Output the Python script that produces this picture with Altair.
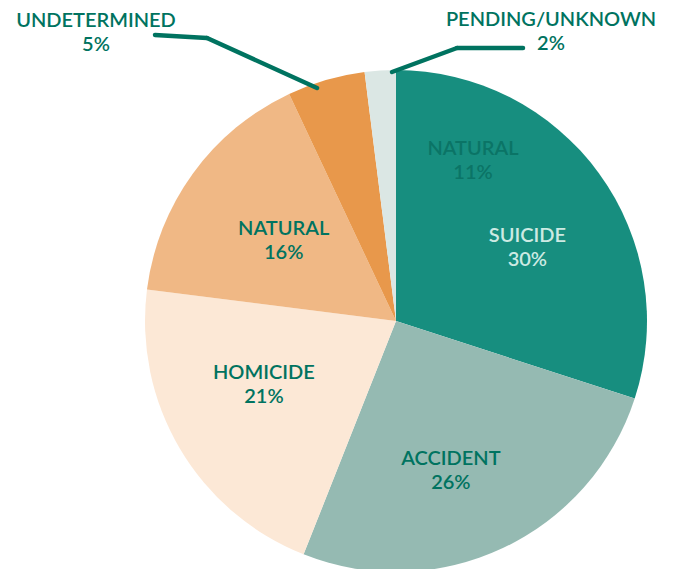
import altair as alt
import pandas as pd

categories = ["SUICIDE", "ACCIDENT", "HOMICIDE", "NATURAL", "UNDETERMINED", "PENDING/UNKNOWN"]
values = [30, 26, 21, 16, 5, 2]
colors = ["#178E7F", "#95BAB2", "#FCE8D6", "#F0B885", "#E8984B", "#DBE7E4"]
stray_label = ["NATURAL", "11%"]

df = pd.DataFrame({
    "category": categories,
    "value": values,
    "order": list(range(len(categories))),
    "label": [f"{c}\n{v}%" for c, v in zip(categories, values)],
})

FONT = "Lato"
WEIGHT = 600
DARK = "#007360"
CX, CY = 388, 313
R = 251
SHIFT = -11

pie = alt.Chart(df).mark_arc(radius=R, stroke=None).encode(
    theta=alt.Theta("value:Q", stack=True),
    order=alt.Order("order:Q"),
    x=alt.value(CX),
    y=alt.value(CY),
    color=alt.Color("category:N", scale=alt.Scale(domain=categories, range=colors), legend=None),
)

lab_base = alt.Chart(df).transform_window(
    cum="sum(value)", sort=[alt.SortField("order")], frame=[None, 0]
).transform_calculate(mid="datum.cum - datum.value / 2")

def inner_label(cat, dx, dy, color):
    return lab_base.transform_filter(alt.datum.category == cat).mark_text(
        radius=150, dx=dx, dy=dy + SHIFT, font=FONT, fontSize=20, fontWeight=WEIGHT,
        lineBreak="\n", lineHeight=24, align="center", baseline="middle", color=color,
    ).encode(
        theta=alt.Theta("mid:Q", stack=False, scale=alt.Scale(domain=[0, 100])),
        x=alt.value(CX), y=alt.value(CY), text="label:N",
    )

labels = [
    inner_label("SUICIDE", 10, 14, "#CDEAE3"),
    inner_label("ACCIDENT", -9, 13, DARK),
    inner_label("HOMICIDE", -3, -13, DARK),
    inner_label("NATURAL", 9, 7, DARK),
]

one = alt.Chart(pd.DataFrame({"k": [0]}))

def text_at(txt, x, y, color=DARK):
    return one.mark_text(font=FONT, fontSize=20, fontWeight=WEIGHT, lineBreak="\n", lineHeight=24,
                         align="center", baseline="middle", color=color).encode(
        x=alt.value(x - 8), y=alt.value(y - 8 + SHIFT), text=alt.value(txt))

def seg(x1, y1, x2, y2):
    return one.mark_rule(strokeWidth=4.5, strokeCap="round", color=DARK).encode(
        x=alt.value(x1 - 8), y=alt.value(y1 - 8), x2=alt.value(x2 - 8), y2=alt.value(y2 - 8))

outer = [
    text_at(f"{categories[4]}\n{values[4]}%", 96, 32),
    text_at(f"{categories[5]}\n{values[5]}%", 551, 31),
    text_at("\n".join(stray_label), 473, 160, "#0B7466"),
    seg(155, 35, 207, 38), seg(207, 38, 317, 88),
    seg(392, 72, 457, 48), seg(457, 48, 523, 48),
]

chart = alt.layer(pie, *labels, *outer).properties(
    width=657, height=561, autosize=alt.AutoSizeParams(type="none"), padding=0
).configure_view(stroke=None)

chart.save("out.html", embed_options={"renderer": "svg", "actions": False})
